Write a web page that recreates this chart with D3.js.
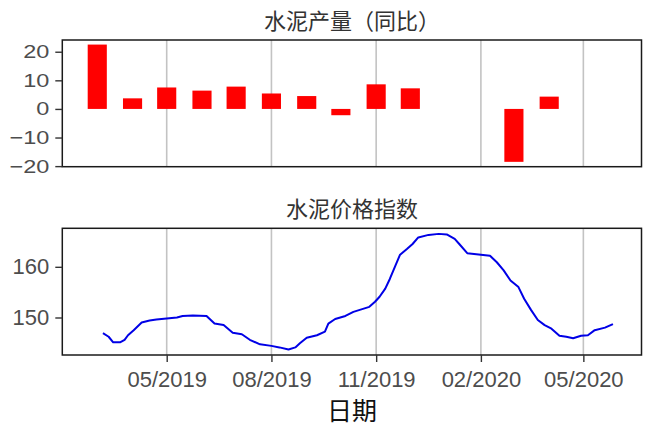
<!DOCTYPE html>
<html>
<head>
<meta charset="utf-8">
<script src="https://cdn.jsdelivr.net/npm/d3@7"></script>
<style>
  html, body { margin: 0; padding: 0; background: #fff; }
  svg { display: block; }
</style>
</head>
<body>
<svg id="chart" width="649" height="427"></svg>
<script>
// ---- Data ----
const barDates  = ["2019-03-01","2019-04-01","2019-05-01","2019-06-01","2019-07-01","2019-08-01",
                   "2019-09-01","2019-10-01","2019-11-01","2019-12-01","2020-03-01","2020-04-01"];
const barValues = [22.5, 3.7, 7.5, 6.4, 7.8, 5.4, 4.5, -2.2, 8.6, 7.2, -18.5, 4.3];

const lineDates = ["2019-03-06","2019-03-11","2019-03-15","2019-03-21","2019-03-25","2019-03-28",
  "2019-04-02","2019-04-09","2019-04-16","2019-04-22","2019-05-01","2019-05-10","2019-05-15",
  "2019-05-24","2019-06-05","2019-06-12","2019-06-20","2019-06-28","2019-07-06","2019-07-13",
  "2019-07-22","2019-08-01","2019-08-08","2019-08-16","2019-08-22","2019-08-26","2019-09-01",
  "2019-09-10","2019-09-17","2019-09-20","2019-09-26","2019-10-05","2019-10-12","2019-10-19",
  "2019-10-26","2019-10-31","2019-11-04","2019-11-09","2019-11-13","2019-11-18","2019-11-22",
  "2019-11-28","2019-12-03","2019-12-08","2019-12-17","2019-12-26","2020-01-02","2020-01-09",
  "2020-01-13","2020-01-20","2020-02-01","2020-02-09","2020-02-15","2020-02-21","2020-02-27",
  "2020-03-05","2020-03-10","2020-03-16","2020-03-22","2020-03-28","2020-04-03","2020-04-10",
  "2020-04-16","2020-04-22","2020-04-29","2020-05-05","2020-05-11","2020-05-20","2020-05-27"];
const lineValues = [146.9,146.2,145.1,145.1,145.6,146.5,
  147.5,149.0,149.4,149.6,149.8,150.0,150.3,
  150.4,150.3,148.8,148.5,147.0,146.7,145.6,
  144.7,144.4,144.1,143.7,144.1,144.9,146.0,
  146.5,147.2,148.8,149.7,150.3,151.1,151.6,
  152.1,153.1,154.1,155.7,157.6,160.3,162.4,
  163.5,164.5,165.8,166.3,166.5,166.4,165.5,
  164.5,162.7,162.4,162.2,160.9,159.3,157.3,
  156.0,153.7,151.5,149.5,148.5,147.8,146.4,
  146.2,145.9,146.4,146.5,147.5,148.0,148.7];

const xTickDates  = ["2019-05-01","2019-08-01","2019-11-01","2020-02-01","2020-05-01"];
const topTicks    = [-20, -10, 0, 10, 20];
const bottomTicks = [150, 160];
const topTitle    = "水泥产量（同比）";
const bottomTitle = "水泥价格指数";
const xTitle      = "日期";

// ---- Setup ----
const parse = d3.utcParse("%Y-%m-%d");
const svg = d3.select("#chart");

const panelL = 62.3, panelR = 641.5;
const top1 = 40, bot1 = 166.7;
const top2 = 228.3, bot2 = 355;

const x = d3.scaleUtc()
  .domain([new Date(Date.UTC(2019,0,29,7)), new Date(Date.UTC(2020,5,21,2))])
  .range([panelL, panelR]);

const yTop = d3.scaleLinear().domain([-20.2, 24.1]).range([bot1, top1]);
const yBot = d3.scaleLinear().domain([142.6, 167.6]).range([bot2, top2]);

const gridColor = "#C3C3C3";
const tickTextColor = "#4D4D4D";
const tickFont = "'Liberation Sans', Arial, sans-serif";
const cjkFont = "'Noto Sans CJK SC', sans-serif";

function panel(yTopPx, yBotPx) {
  const g = svg.append("g");
  g.selectAll("line.grid").data(xTickDates).join("line")
    .attr("class","grid")
    .attr("x1", d => x(parse(d))).attr("x2", d => x(parse(d)))
    .attr("y1", yTopPx).attr("y2", yBotPx)
    .attr("stroke", gridColor).attr("stroke-width", 1.6);
  return g;
}

// ---- Top panel ----
const g1 = panel(top1, bot1);
const halfBar = 8.4 * 86400000;
g1.selectAll("rect.bar").data(barDates.map((d,i)=>({d:parse(d), v:barValues[i]}))).join("rect")
  .attr("class","bar")
  .attr("x", d => x(new Date(d.d.getTime() - halfBar)))
  .attr("width", d => x(new Date(d.d.getTime() + halfBar)) - x(new Date(d.d.getTime() - halfBar)))
  .attr("y", d => yTop(Math.max(0, d.v)))
  .attr("height", d => Math.abs(yTop(d.v) - yTop(0)))
  .attr("fill", "#FF0000");

svg.append("rect").attr("x", panelL).attr("y", top1)
  .attr("width", panelR - panelL).attr("height", bot1 - top1)
  .attr("fill","none").attr("stroke","#1A1A1A").attr("stroke-width",1.5);

const ax1 = svg.append("g").attr("transform", `translate(${panelL},0)`)
  .call(d3.axisLeft(yTop).tickValues(topTicks).tickSize(7).tickPadding(6));
ax1.select(".domain").remove();
ax1.selectAll(".tick line").attr("stroke","#333").attr("stroke-width",1.4);
ax1.selectAll(".tick text")
  .attr("fill", tickTextColor).attr("font-family", tickFont).attr("font-size", 23.5)
  .attr("transform","scale(1,0.8)");

// ---- Bottom panel ----
const g2 = panel(top2, bot2);
const lineData = lineDates.map((d,i)=>({d:parse(d), v:lineValues[i]}));
g2.append("path").datum(lineData)
  .attr("d", d3.line().x(d => x(d.d)).y(d => yBot(d.v)))
  .attr("fill","none").attr("stroke","#0000E6").attr("stroke-width",2)
  .attr("stroke-linejoin","round");

svg.append("rect").attr("x", panelL).attr("y", top2)
  .attr("width", panelR - panelL).attr("height", bot2 - top2)
  .attr("fill","none").attr("stroke","#1A1A1A").attr("stroke-width",1.5);

const ax2 = svg.append("g").attr("transform", `translate(${panelL},0)`)
  .call(d3.axisLeft(yBot).tickValues(bottomTicks).tickSize(7).tickPadding(6));
ax2.select(".domain").remove();
ax2.selectAll(".tick line").attr("stroke","#333").attr("stroke-width",1.4);
ax2.selectAll(".tick text")
  .attr("fill", tickTextColor).attr("font-family", tickFont).attr("font-size", 22);

const ax3 = svg.append("g").attr("transform", `translate(0,${bot2})`)
  .call(d3.axisBottom(x).tickValues(xTickDates.map(parse)).tickFormat(d3.utcFormat("%m/%Y"))
        .tickSize(7).tickPadding(9));
ax3.select(".domain").remove();
ax3.selectAll(".tick line").attr("stroke","#333").attr("stroke-width",1.4);
ax3.selectAll(".tick text")
  .attr("fill", tickTextColor).attr("font-family", tickFont).attr("font-size", 22);

// ---- Titles ----
const cx = (panelL + panelR) / 2;
svg.append("text").attr("x", cx).attr("y", 19).attr("text-anchor","middle")
  .attr("dominant-baseline","central").attr("font-family", cjkFont).attr("font-size", 22)
  .attr("fill","#333").text(topTitle);
svg.append("text").attr("x", cx).attr("y", 207).attr("text-anchor","middle")
  .attr("dominant-baseline","central").attr("font-family", cjkFont).attr("font-size", 22)
  .attr("fill","#333").text(bottomTitle);
svg.append("text").attr("x", cx).attr("y", 409).attr("text-anchor","middle")
  .attr("dominant-baseline","central").attr("font-family", cjkFont).attr("font-size", 25)
  .attr("fill","#111").text(xTitle);
</script>
</body>
</html>
